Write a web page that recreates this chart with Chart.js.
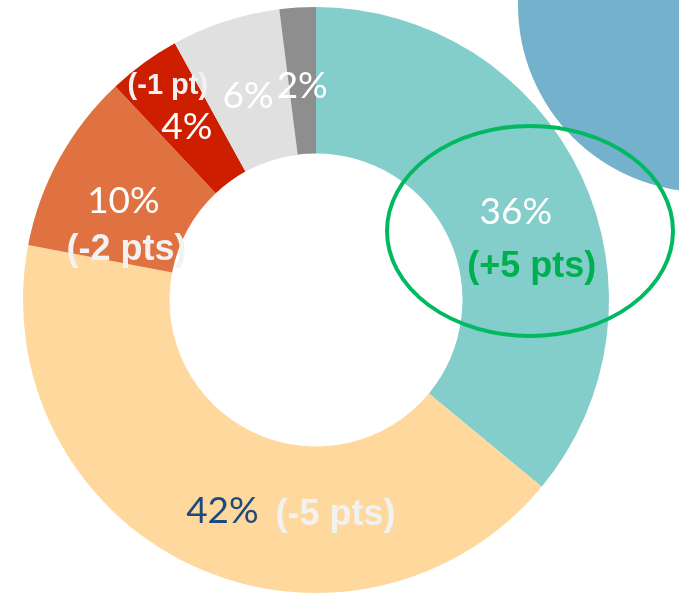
<!DOCTYPE html>
<html>
<head>
<meta charset="utf-8">
<script src="https://cdn.jsdelivr.net/npm/chart.js@4/dist/chart.umd.min.js"></script>
<style>
  html, body { margin: 0; padding: 0; background: #fff; }
  #wrap { position: relative; width: 679px; height: 598px; overflow: hidden; }
</style>
</head>
<body>
<div id="wrap"><canvas id="shareChart"></canvas></div>
<script>
const categories = ['Segment A', 'Segment B', 'Segment C', 'Segment D', 'Segment E', 'Segment F'];
const shares = [36, 42, 10, 4, 6, 2];
const deltas = [5, -5, -2, -1, null, null];

const sliceColors = ['#83CDCB', '#FED89D', '#E07242', '#CD1F00', '#E0E0E0', '#8E8E8E'];
const shareColors = ['#FFFFFF', '#1F497D', '#FFFFFF', '#FFFFFF', '#FFFFFF', '#FFFFFF'];
const deltaColors = ['#00B050', '#F2F2F2', '#F2F2F2', '#F2F2F2', null, null];

// label offsets from the slice centre point
const shareOffsets = [[1, 6], [0, 12], [0, 7], [0, 5], [0, 5], [0, 5]];
const deltaOffsets = [[17, 61], [113, 16], [3, 56], [-19, -36], null, null];

function deltaText(d) {
    const abs = Math.abs(d);
    return '(' + (d > 0 ? '+' : '-') + abs + (abs === 1 ? ' pt' : ' pts') + ')';
}

const decorations = {
    id: 'decorations',
    beforeDatasetsDraw(chart) {
        const ctx = chart.ctx;
        ctx.save();
        ctx.fillStyle = '#74B1CC';
        ctx.beginPath();
        ctx.arc(705, 5, 187, 0, Math.PI * 2);
        ctx.fill();
        ctx.restore();
    },
    afterDatasetsDraw(chart) {
        const ctx = chart.ctx;
        const arcs = chart.getDatasetMeta(0).data;
        ctx.save();

        // green highlight ring
        ctx.strokeStyle = '#00B960';
        ctx.lineWidth = 4;
        ctx.beginPath();
        ctx.ellipse(530, 231, 143, 105, 0, 0, Math.PI * 2);
        ctx.stroke();

        ctx.textAlign = 'center';
        ctx.textBaseline = 'middle';
        arcs.forEach((arc, i) => {
            const c = arc.getCenterPoint();
            ctx.font = '37px Lato, "Open Sans", sans-serif';
            ctx.fillStyle = shareColors[i];
            ctx.fillText(shares[i] + '%', c.x + shareOffsets[i][0], c.y + shareOffsets[i][1]);

            if (deltas[i] !== null) {
                const small = Math.abs(deltas[i]) === 1;
                ctx.font = 'bold ' + (small ? 29 : 36) + 'px "Liberation Sans", Arial, sans-serif';
                ctx.fillStyle = deltaColors[i];
                ctx.fillText(deltaText(deltas[i]), c.x + deltaOffsets[i][0], c.y + deltaOffsets[i][1]);
            }
        });
        ctx.restore();
    }
};

new Chart(document.getElementById('shareChart').getContext('2d'), {
    type: 'doughnut',
    data: {
        labels: categories,
        datasets: [{
            data: shares,
            backgroundColor: sliceColors,
            borderWidth: 0
        }]
    },
    options: {
        responsive: true,
        maintainAspectRatio: false,
        animation: false,
        cutout: '50%',
        layout: { padding: { top: 7, bottom: 5, left: 0, right: 47 } },
        plugins: {
            legend: { display: false },
            tooltip: { enabled: false }
        }
    },
    plugins: [decorations]
});
</script>
</body>
</html>
